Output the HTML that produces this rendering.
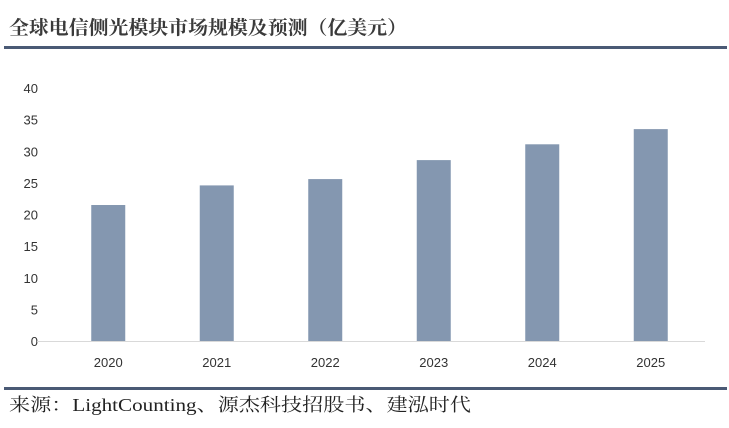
<!DOCTYPE html>
<html><head><meta charset="utf-8"><style>
body{margin:0;background:#fff;}
svg{display:block;}
</style></head><body>
<svg width="729" height="428" xmlns="http://www.w3.org/2000/svg">
<text x="9" y="34" textLength="398" lengthAdjust="spacingAndGlyphs" font-family="'Liberation Serif','Noto Serif CJK SC',serif" font-size="19" font-weight="bold" fill="#3a3a3a">全球电信侧光模块市场规模及预测（亿美元）</text>
<rect x="4" y="46" width="723" height="3" fill="#4a5a75"/>
<g id="axes"></g>
<g id="bars"></g>
<rect x="4" y="387" width="723" height="3" fill="#4a5a75"/>
<text x="9" y="411" textLength="462" lengthAdjust="spacingAndGlyphs" font-family="'Liberation Serif','Noto Serif CJK SC',serif" font-size="18" fill="#222">来源：LightCounting、源杰科技招股书、建泓时代</text>
<script>
const categories=["2020","2021","2022","2023","2024","2025"];
const values=[21.5,24.6,25.6,28.6,31.1,33.5];
const yTicks=[0,5,10,15,20,25,30,35,40];
const NS="http://www.w3.org/2000/svg";
const x0=54,x1=705,y0=341,yTop=88,yMax=40;
const band=(x1-x0)/categories.length;
function y(v){return y0-(v/yMax)*(y0-yTop);}
function xc(i){return x0+band*(i+0.5);}
const axes=document.getElementById('axes'),bars=document.getElementById('bars');
yTicks.forEach(t=>{
 const el=document.createElementNS(NS,'text');
 
 
 el.setAttribute('x',38);el.setAttribute('y',y(t)+5);
 el.setAttribute('text-anchor','end');el.setAttribute('font-size','13');
 el.setAttribute('font-family','Liberation Sans, sans-serif');el.setAttribute('fill','#333');
 el.textContent=t;axes.appendChild(el);
});
const ax=document.createElementNS(NS,'line');


ax.setAttribute('x1',37);ax.setAttribute('x2',x1);ax.setAttribute('y1',y0+0.5);ax.setAttribute('y2',y0+0.5);
ax.setAttribute('stroke','#d9d9d9');ax.setAttribute('stroke-width','1');axes.appendChild(ax);
categories.forEach((c,i)=>{
 const r=document.createElementNS(NS,'rect');
 
 
 r.setAttribute('x',xc(i)-17);r.setAttribute('width',34);
 r.setAttribute('y',y(values[i]));r.setAttribute('height',y0-y(values[i]));
 r.setAttribute('fill','#8497b0');bars.appendChild(r);
 const t=document.createElementNS(NS,'text');
 
 
 t.setAttribute('x',xc(i));t.setAttribute('y',367);
 t.setAttribute('text-anchor','middle');t.setAttribute('font-size','13');
 t.setAttribute('font-family','Liberation Sans, sans-serif');t.setAttribute('fill','#333');
 t.textContent=c;axes.appendChild(t);
});
</script>
</svg>
</body></html>
